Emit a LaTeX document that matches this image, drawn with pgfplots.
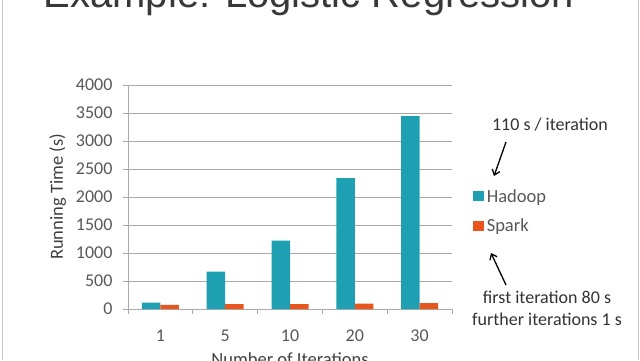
\documentclass[border=0pt]{standalone}
\usepackage{pgfplots}
\pgfplotsset{compat=1.18}
\usetikzlibrary{arrows.meta}
\usepackage{fontspec}
\setmainfont{Carlito}
\newfontfamily\titlefont{Liberation Sans}
\definecolor{hadoop}{RGB}{31,160,178}
\definecolor{spark}{RGB}{232,86,30}
\definecolor{gridc}{RGB}{170,170,170}
\definecolor{txt}{RGB}{89,89,89}
\begin{document}
\begin{tikzpicture}
\useasboundingbox (0pt,0pt) rectangle (640pt,360pt);
\clip (0pt,0pt) rectangle (640pt,360pt);
\fill[white] (0pt,0pt) rectangle (640pt,360pt);
\draw[black!22, line width=1pt] (2.5pt,0pt) -- (2.5pt,360pt);
\draw[black!22, line width=1pt] (638.5pt,0pt) -- (638.5pt,360pt);
\node[anchor=base, font=\titlefont\fontsize{40}{48}\selectfont, text=black!78, inner sep=0pt] at (309pt,353pt) {Example: Logistic Regression};
\begin{axis}[
  at={(128pt,51pt)}, anchor=south west,
  width=324pt, height=224pt, scale only axis,
  ybar=0pt, bar width=18.5pt,
  xmin=-0.5, xmax=4.5, ymin=0, ymax=4000,
  xtick={0,1,2,3,4}, xticklabels={1,5,10,20,30},
  minor xtick={-0.5,0.5,1.5,2.5,3.5,4.5},
  ytick distance=500,
  ymajorgrids, grid style={gridc, line width=0.8pt},
  axis x line*=bottom, axis y line*=left,
  axis line style={gridc, line width=0.8pt, -},
  tick align=outside,
  major tick length=5pt, minor tick length=5pt,
  major x tick style={draw=none},
  minor x tick style={draw=gridc, line width=0.8pt},
  y tick style={draw=gridc, line width=0.8pt},
  ticklabel style={font=\fontsize{18}{21}\selectfont, text=txt},
  xticklabel style={yshift=-12pt},
  yticklabel style={xshift=-7pt},
  /pgf/number format/assume math mode=true,
  /pgf/number format/1000 sep={},
  xlabel={Number of Iterations}, ylabel={Running Time (s)},
  label style={font=\fontsize{18.5}{22}\selectfont, text=black!75},
  xlabel style={yshift=-4pt},
  ylabel style={yshift=3pt},
  legend style={at={(rel axis cs:1.065,0.4375)}, anchor=west, draw=none, fill=none,
    row sep=10pt, font=\fontsize{18.5}{22}\selectfont, text=txt, inner sep=0pt,
    nodes={inner sep=2.5pt}},
  legend cell align=left,
  legend image code/.code={\fill[#1] (0pt,-5pt) rectangle (11pt,5pt);},
]
\addplot[fill=hadoop, draw=none] coordinates {(0,113) (1,668) (2,1222) (3,2335) (4,3446)};
\addplot[fill=spark, draw=none] coordinates {(0,75) (1,88) (2,86) (3,97) (4,105)};
\legend{Hadoop, Spark}
\end{axis}
\node[anchor=base, font=\fontsize{18}{21}\selectfont, text=black!80] at (550pt,230pt) {110 s / iteration};
\draw[-{Straight Barb[length=5pt,width=8pt]}, line width=1.3pt] (506pt,218pt) -- (494pt,184pt);
\draw[-{Straight Barb[length=5pt,width=8pt]}, line width=1.3pt] (506pt,75pt) -- (491pt,107pt);
\node[anchor=base, font=\fontsize{18}{21}\selectfont, text=black!80] at (547pt,57pt) {first iteration 80 s};
\node[anchor=base, font=\fontsize{18}{21}\selectfont, text=black!80] at (547pt,35pt) {further iterations 1 s};
\end{tikzpicture}
\end{document}
